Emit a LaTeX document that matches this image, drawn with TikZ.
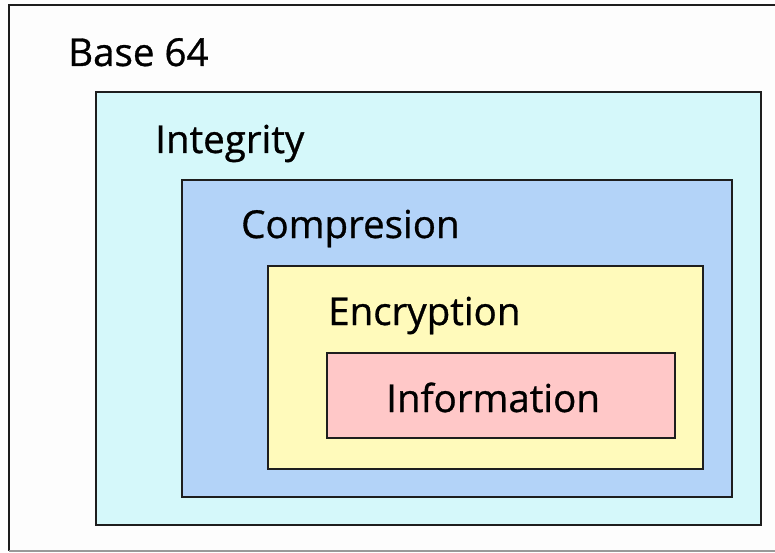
\documentclass[tikz,border=0pt]{standalone}
\usepackage{fontspec}
\setmainfont{Open Sans}
\definecolor{outerfill}{HTML}{FDFDFD}
\definecolor{cyanfill}{HTML}{D5F8FA}
\definecolor{bluefill}{HTML}{B3D3F8}
\definecolor{yellowfill}{HTML}{FFFABB}
\definecolor{pinkfill}{HTML}{FFC8C8}
\definecolor{edge}{HTML}{1E1E1E}
\tikzset{
  layer/.style={draw=edge, line width=2.8pt, anchor=north west, inner sep=0pt, outer sep=0pt},
  lbl/.style={anchor=base west, inner sep=0pt, font=\fontsize{38.5}{42}\selectfont\addfontfeatures{FakeBold=0.8}, text=black},
}
\begin{document}
\begin{tikzpicture}[x=1pt,y=-1pt]
\useasboundingbox (0,0) rectangle (775,553);
\fill[outerfill] (9,5) rectangle (775,551);
\draw[edge, line width=2.8pt] (776,5) -- (9,5) -- (9,551);
\draw[black!40, line width=1.5pt] (9,551) -- (776,551);
\node[layer, fill=cyanfill, minimum width=665pt, minimum height=433pt] (integrity) at (96,92) {};
\node[layer, fill=bluefill, minimum width=550pt, minimum height=317pt] (compression) at (182,180) {};
\node[layer, fill=yellowfill, minimum width=435pt, minimum height=203pt] (encryption) at (268,266) {};
\node[layer, fill=pinkfill, minimum width=348pt, minimum height=85pt] (information) at (327,353) {};
\node[lbl] (tbase) at (68,66) {Base 64};
\node[lbl] (tint) at (155,153) {Integrity};
\node[lbl] (tcomp) at (241,238) {Compresion};
\node[lbl] (tenc) at (328,325) {Encryption};
\node[lbl] (tinfo) at (386,412) {Information};
\end{tikzpicture}
\end{document}
